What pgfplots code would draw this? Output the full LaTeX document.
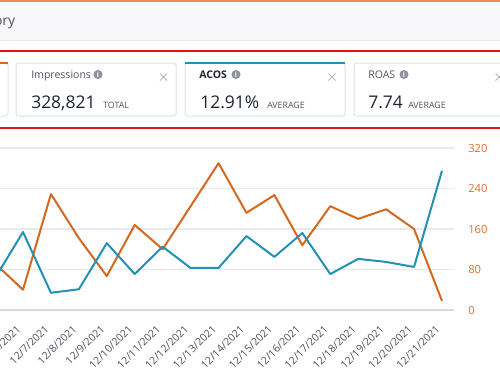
\documentclass[border=0pt]{standalone}
\usepackage{pgfplots}
\pgfplotsset{compat=1.18}
\usepackage{fontspec}
\setmainfont{Open Sans}
\definecolor{lineorange}{HTML}{D2691E}
\definecolor{lineblue}{HTML}{2391B4}
\definecolor{ticko}{HTML}{DC7030}
\definecolor{gridc}{HTML}{E9EAF0}
\definecolor{axisc}{HTML}{D5D8E6}
\definecolor{bandc}{HTML}{F8F7FA}
\definecolor{cardb}{HTML}{E1E1E6}
\definecolor{redl}{HTML}{E3101A}
\definecolor{txtd}{HTML}{1F2530}
\definecolor{txtg}{HTML}{4E535E}
\definecolor{iconc}{HTML}{8C919B}
\definecolor{xc}{HTML}{B5B8BE}
\definecolor{topor}{HTML}{F08A50}
\begin{document}
\begin{tikzpicture}[x=0.75pt,y=-0.75pt]
\useasboundingbox (0,0) rectangle (500,375);
\clip (0,0) rectangle (500,375);
\fill[white] (0,0) rectangle (500,375);
% top band
\fill[bandc] (0,0) rectangle (500,40);
\draw[gridc, line width=0.75pt] (0,40.5) -- (500,40.5);
\fill[topor] (0,0) rectangle (500,2);
\node[anchor=base east, inner sep=0pt, font=\fontsize{10.5}{12}\selectfont, text=txtg] at (15.5,25) {History};
% red annotation lines
\draw[redl, line width=1.5pt] (0,50.7) -- (500,50.7);
\draw[redl, line width=1.5pt] (0,127.7) -- (500,127.7);
% cards
\draw[cardb, line width=0.75pt, rounded corners=2pt, fill=white] (-20,63) rectangle (8,116);
\fill[lineorange] (-20,62) rectangle (7.5,64.2);
\draw[cardb, line width=0.75pt, rounded corners=2pt, fill=white] (16,63) rectangle (176,116);
\draw[cardb, line width=0.75pt, rounded corners=2pt, fill=white] (185,63) rectangle (345,116);
\fill[lineblue] (185,62) rectangle (345,64.4);
\draw[cardb, line width=0.75pt, rounded corners=2pt, fill=white] (354,63) rectangle (520,116);
% card texts
\node[anchor=base west, inner sep=0pt, font=\fontsize{7.9}{9}\selectfont, text=txtg] at (31,78) {Impressions};
\node[anchor=base west, inner sep=0pt, font=\fontsize{7.9}{9}\selectfont\bfseries, text=txtd] at (199,78) {ACOS};
\node[anchor=base west, inner sep=0pt, font=\fontsize{7.9}{9}\selectfont, text=txtg] at (368,78) {ROAS};
\foreach \cx in {98,236,404}{
  \fill[iconc] (\cx,74.5) circle (3.4pt);
  \node[inner sep=0pt, text=white, font=\fontsize{5.2}{6}\selectfont\bfseries] at (\cx,74.8) {i};
}
\foreach \cx in {163.5,332,499}{
  \draw[xc, line width=0.6pt] (\cx-3.5,73.5) -- (\cx+3.5,80.5) (\cx-3.5,80.5) -- (\cx+3.5,73.5);
}
\node[anchor=base west, inner sep=0pt, font=\fontsize{13.1}{15}\selectfont, text=txtd] at (31,108) {328,821};
\node[anchor=base west, inner sep=0pt, font=\fontsize{6.6}{8}\selectfont, text=txtg] at (103,108) {TOTAL};
\node[anchor=base west, inner sep=0pt, font=\fontsize{13.1}{15}\selectfont, text=txtd] at (200,108) {12.91\%};
\node[anchor=base west, inner sep=0pt, font=\fontsize{6.6}{8}\selectfont, text=txtg] at (267,108) {AVERAGE};
\node[anchor=base west, inner sep=0pt, font=\fontsize{13.1}{15}\selectfont, text=txtd] at (368,108) {7.74};
\node[anchor=base west, inner sep=0pt, font=\fontsize{6.6}{8}\selectfont, text=txtg] at (408,108) {AVERAGE};
% chart
\begin{axis}[
  at={(0pt,-232.5pt)}, anchor=south west, scale only axis,
  width=340.5pt, height=121.5pt,
  xmin=-0.8235, xmax=15.43, ymin=0, ymax=320,
  axis x line*=bottom, axis y line*=right,
  x axis line style={draw=axisc, line width=1pt, -},
  y axis line style={draw=none},
  ytick={0,80,160,240,320},
  ymajorgrids, major grid style={draw=gridc, line width=0.8pt},
  xtick={0,...,15},
  xticklabels={12/6/2021,12/7/2021,12/8/2021,12/9/2021,12/10/2021,12/11/2021,12/12/2021,12/13/2021,12/14/2021,12/15/2021,12/16/2021,12/17/2021,12/18/2021,12/19/2021,12/20/2021,12/21/2021},
  tick style={draw=none},
  yticklabel style={font=\fontsize{8.4}{10}\selectfont, text=ticko, anchor=west, inner sep=0pt, xshift=10.5pt},
  xticklabel style={font=\fontsize{7.9}{9}\selectfont, text=txtg, inner sep=0pt, xshift=-3pt, yshift=-12.75pt, rotate=45, anchor=east},
  /pgf/number format/assume math mode=true,
]
\addplot[lineorange, line width=1.5pt, line join=round, mark=none] coordinates {
(-1,92) (0,40) (1,229) (2,142) (3,67) (4,168) (5,120) (6,205) (7,290) (8,192) (9,227) (10,128) (11,205) (12,180) (13,199) (14,160) (15,18)};
\addplot[lineblue, line width=1.5pt, line join=round, mark=none] coordinates {
(-1,63) (0,154) (1,34) (2,41) (3,132) (4,71) (5,125) (6,83) (7,83) (8,146) (9,105) (10,152) (11,71) (12,101) (13,95) (14,85) (15,275)};
\end{axis}
\end{tikzpicture}
\end{document}
